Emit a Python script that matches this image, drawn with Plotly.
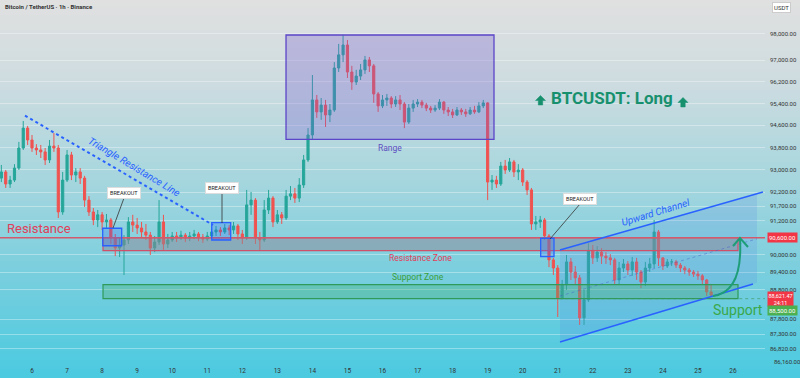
import numpy as np
import pandas as pd
import plotly.graph_objects as go

# ---------------- data (BTCUSDT, 3h candles) ----------------
start_time = "2026-01-05 03:00"
first_open = 92700
closes = [
    92920, 92490, 92630, 93060, 93780, 94500, 94070, 93780, 93710, 93640,
    93350, 93850, 93780, 91500, 92630, 93530, 92810, 92920, 92700, 91920,
    91500, 91220, 91400, 91150, 91220, 90590, 90240, 90345, 90520, 91150,
    91040, 90940, 90800, 90690, 90240, 90450, 91150, 90380, 90520, 90660,
    90590, 90690, 90590, 90660, 90730, 90620, 90550, 90660, 90800, 90870,
    90800, 90940, 90870, 91010, 90730, 90590, 91750, 91920, 90590, 90520,
    91570, 91990, 91150, 91400, 91290, 92060, 92140, 91990, 92455, 93350,
    94250, 95530, 95090, 95340, 94980, 95160, 96710, 97200, 97570, 96560,
    96190, 96410, 96640, 97010, 96790, 95750, 95310, 95530, 95600, 95380,
    95530, 95380, 94720, 95230, 95380, 95450, 95340, 95230, 95160, 95230,
    95450, 95160, 95090, 94980, 95160, 95090, 95020, 95160, 95090, 95310,
    95420, 92560, 92630, 92490, 93130, 92990, 93280, 92920, 92990, 92560,
    92280, 91080, 91150, 91220, 90660, 89830, 89550, 88520, 88970, 89760,
    89410, 89210, 87850, 88460, 90170, 89900, 90100, 89960, 89900, 89830,
    89140, 89550, 89690, 89480, 89760, 89410, 89070, 89550, 89690, 90800,
    89900, 89620, 89760, 89760, 89650, 89550, 89480, 89410, 89340, 89280,
    89140, 88730, 88621.47,
]
highs = [
    93170, 92990, 92780, 93200, 94000, 94760, 94580, 94250, 93920, 93890,
    93780, 94070, 94320, 93890, 92920, 93710, 93640, 93060, 93060, 92780,
    92060, 91640, 91570, 91500, 91430, 91290, 90730, 90590, 90690, 91320,
    91400, 91290, 91150, 91080, 90800, 90660, 91920, 91400, 90730, 90800,
    90800, 90840, 90760, 90800, 90870, 90800, 90730, 90800, 90940, 91010,
    90970, 91080, 91040, 91150, 91080, 90870, 92280, 92210, 91990, 90800,
    91920, 92280, 92060, 91570, 91500, 92280, 92420, 92350, 92700, 93530,
    94500, 96450, 95710, 95600, 95530, 95380, 96930, 97610, 97950, 97760,
    96790, 96640, 96860, 97160, 97120, 96860, 95820, 95710, 95750, 95670,
    95670, 95710, 95450, 95380, 95530, 95560, 95530, 95420, 95310, 95340,
    95560, 95490, 95270, 95200, 95270, 95230, 95200, 95270, 95310, 95450,
    95530, 95450, 92810, 92780, 93280, 93350, 93420, 93350, 93200, 93060,
    92630, 92350, 91360, 91360, 91290, 90730, 89900, 89650, 89140, 90000,
    89900, 89620, 89310, 88800, 90410, 90345, 90310, 90240, 90100, 90030,
    89900, 89760, 89860, 89790, 89930, 89900, 89480, 89760, 89900, 91220,
    90870, 89900, 89860, 89860, 89830, 89720, 89620, 89550, 89480, 89450,
    89340, 89170, 89000,
]
lows = [
    92560, 92350, 92350, 92560, 92990, 93710, 93890, 93640, 93530, 93420,
    93170, 93240, 93640, 91290, 91400, 92560, 92630, 92560, 92490, 91680,
    91360, 91040, 90970, 90870, 90940, 90380, 89960, 89930, 89310, 90380,
    90800, 90730, 90620, 90520, 90000, 90100, 90345, 90170, 90240, 90450,
    90450, 90520, 90450, 90480, 90550, 90480, 90420, 90480, 90590, 90660,
    90660, 90730, 90690, 90730, 90520, 90380, 90520, 91400, 90380, 90170,
    90450, 91430, 90970, 91080, 91080, 91220, 91920, 91820, 91850, 92350,
    93280, 94070, 94870, 94800, 94540, 94720, 95090, 96560, 96930, 96340,
    95900, 96080, 96265, 96490, 96560, 95420, 95090, 95230, 95310, 95230,
    95270, 95160, 94500, 94650, 95090, 95270, 95230, 95120, 95050, 95090,
    95160, 95020, 94940, 94870, 94940, 94980, 94910, 94980, 95020, 95050,
    95230, 91920, 92280, 92350, 92420, 92850, 92920, 92740, 92630, 92420,
    92100, 90870, 90870, 90940, 90520, 89580, 89310, 87880, 88480, 88800,
    89140, 89000, 87610, 87610, 88390, 89690, 89760, 89690, 89690, 89650,
    89000, 89000, 89410, 89310, 89280, 89140, 88860, 88930, 89410, 89550,
    89620, 89480, 89550, 89620, 89550, 89410, 89340, 89280, 89240, 89140,
    89000, 88590, 88560,
]
opens = [first_open] + closes[:-1]
times = pd.date_range(start_time, periods=len(closes), freq="3h")

# axis labels
day_ticks = pd.date_range("2026-01-06", "2026-01-26", freq="D")
day_labels = [str(d.day) for d in day_ticks]
price_ticks = [98000, 97000, 96200, 95400, 94600, 93800, 93000, 92200, 91700,
               91200, 90000, 89400, 88800, 87800, 87300, 86820]
price_labels = [f"{v:,.2f}" for v in price_ticks]

# levels / zones
resistance_top, resistance_bottom = 90600, 90150
support_top, support_bottom = 88980, 88500
last_price = 88621.47

# ---------------- layout helpers ----------------
W, H = 800, 378
ML, MR, MT, MB = 0, 35, 0, 23
PW, PH = W - ML - MR, H - MT - MB
def px(x): return x / PW
def py(y): return 1 - y / PH

fig = go.Figure()

fig.add_trace(go.Candlestick(
    x=times, open=opens, high=highs, low=lows, close=closes,
    increasing=dict(line=dict(color="#26a69a", width=1), fillcolor="#26a69a"),
    decreasing=dict(line=dict(color="#ef5350", width=1), fillcolor="#ef5350"),
    whiskerwidth=0, showlegend=False, hoverinfo="skip",
))

# channel fill
ch_x = ["2026-01-21 01:32", "2026-01-26 16:26", "2026-01-26 16:26", "2026-01-21 01:32"]
ch_y = [90170, 92146, 89043, 87038]
fig.add_trace(go.Scatter(x=ch_x, y=ch_y, fill="toself", mode="lines",
                         line=dict(width=0), fillcolor="rgba(90,140,230,0.20)",
                         showlegend=False, hoverinfo="skip"))

shapes = []
# background gradient
stops = [(0, (224, 224, 224)), (80, (206, 220, 224)), (180, (166, 214, 222)),
         (280, (118, 206, 222)), (378, (74, 202, 224))]
def grad(y):
    for (y0, c0), (y1, c1) in zip(stops[:-1], stops[1:]):
        if y0 <= y <= y1:
            t = (y - y0) / (y1 - y0)
            return "rgb(%d,%d,%d)" % tuple(round(a + (b - a) * t) for a, b in zip(c0, c1))
    return "rgb(%d,%d,%d)" % stops[-1][1]
for k in range(0, H, 3):
    shapes.append(dict(type="rect", xref="paper", yref="paper", layer="below",
                       x0=-0.01, x1=W / PW + 0.01, y0=py(k + 3.5), y1=py(k),
                       fillcolor=grad(k + 1.5), line=dict(width=0)))

# range box
shapes.append(dict(type="rect", xref="x", yref="y", x0="2026-01-13 05:56", x1="2026-01-19 04:21",
                   y0=94095, y1=97946, fillcolor="rgba(120,92,210,0.30)",
                   line=dict(color="#5b45c8", width=1.3)))
# resistance zone
shapes.append(dict(type="rect", xref="x", yref="y", x0="2026-01-08 00:37", x1="2026-01-26 03:26",
                   y0=resistance_bottom, y1=resistance_top, fillcolor="rgba(140,135,150,0.50)",
                   line=dict(color="#d0506a", width=1.2)))
# resistance line
shapes.append(dict(type="line", xref="paper", yref="y", x0=0, x1=1,
                   y0=resistance_top, y1=resistance_top, line=dict(color="#d25a6c", width=1.5)))
# support zone
shapes.append(dict(type="rect", xref="x", yref="y", x0="2026-01-08 00:37", x1="2026-01-26 03:26",
                   y0=support_bottom, y1=support_top, fillcolor="rgba(70,175,110,0.33)",
                   line=dict(color="#2f9a5a", width=1.2)))
shapes.append(dict(type="line", xref="x", yref="y", x0="2026-01-21 01:00", x1="2026-01-26 21:55",
                   y0=support_bottom, y1=support_bottom,
                   line=dict(color="rgba(60,150,90,0.6)", width=1, dash="dot")))
# breakout boxes
for x0, x1, y0, y1 in [("2026-01-08 00:25", "2026-01-08 13:25", 90320, 90930),
                       ("2026-01-11 03:03", "2026-01-11 16:03", 90520, 91124),
                       ("2026-01-20 12:19", "2026-01-20 21:26", 89940, 90580)]:
    shapes.append(dict(type="rect", xref="x", yref="y", x0=x0, x1=x1, y0=y0, y1=y1,
                       fillcolor="rgba(41,98,255,0.25)", line=dict(color="#2962ff", width=1.3)))
# triangle resistance line
shapes.append(dict(type="line", xref="x", yref="y", x0="2026-01-05 19:12", x1="2026-01-11 03:56",
                   y0=94953, y1=91043, line=dict(color="#2962ff", width=2, dash="dot")))
# upward channel
shapes.append(dict(type="line", xref="x", yref="y", x0="2026-01-21 01:32", x1="2026-01-26 20:33",
                   y0=90170, y1=92206, line=dict(color="#2962ff", width=1.5)))
shapes.append(dict(type="line", xref="x", yref="y", x0="2026-01-21 01:32", x1="2026-01-26 13:42",
                   y0=87038, y1=89001, line=dict(color="#2962ff", width=1.5)))
shapes.append(dict(type="line", xref="x", yref="y", x0="2026-01-21 01:32", x1="2026-01-26 16:26",
                   y0=88590, y1=90560, line=dict(color="rgba(70,90,200,0.45)", width=1, dash="dot")))
# leader lines
for (xa, ya), (xb, yb) in [((113, 228), (124, 198)), ((222, 194), (222, 223)), ((580, 204), (550, 239))]:
    shapes.append(dict(type="line", xref="paper", yref="paper", x0=px(xa), y0=py(ya),
                       x1=px(xb), y1=py(yb), line=dict(color="#333", width=0.8)))
# curved arrow
shapes.append(dict(type="path", xref="paper", yref="paper",
                   path=f"M {px(713)},{py(296)} Q {px(743)},{py(292)} {px(740)},{py(239)}",
                   line=dict(color="#1e9e78", width=2)))
shapes.append(dict(type="path", xref="paper", yref="paper",
                   path=f"M {px(733)},{py(246)} L {px(740)},{py(238)} L {px(748)},{py(247)}",
                   line=dict(color="#1e9e78", width=2)))
# filled up-arrows beside the "BTCUSDT: Long" title
def up_arrow(cx, top):
    pts = [(cx - 5, top + 5), (cx, top), (cx + 5, top + 5), (cx + 2.2, top + 5),
           (cx + 2.2, top + 9.5), (cx - 2.2, top + 9.5), (cx - 2.2, top + 5)]
    p = "M " + " L ".join(f"{px(a)},{py(b)}" for a, b in pts) + " Z"
    return dict(type="path", xref="paper", yref="paper", path=p,
                fillcolor="#17906e", line=dict(color="#17906e", width=0.5))
shapes.append(up_arrow(540.5, 95.5))
shapes.append(up_arrow(683, 97.5))

font_main = "Roboto, Liberation Sans, sans-serif"
ann = []
def text(x, y, s, size, color, **kw):
    d = dict(x=px(x), y=py(y), xref="paper", yref="paper", text=s, showarrow=False,
             xanchor="center", yanchor="middle",
             font=dict(size=size, color=color, family=kw.pop("family", font_main),
                       style=kw.pop("style", "normal"), weight=kw.pop("weight", "normal")))
    d.update(kw)
    ann.append(d)

text(3, 7, "Bitcoin / TetherUS · 1h · Binance", 6, "#333", xanchor="left", weight="bold")
text(781, 7.5, "USDT", 6, "#333", bgcolor="white", bordercolor="#ccc", borderpad=1)
text(5, 228, "Resistance", 13, "#e0405a", xanchor="left")
text(420, 258, "Resistance Zone", 8.5, "#e0405a")
text(418, 277, "Support Zone", 8.5, "#3a9e3a")
text(738, 310, "Support", 14, "#3aa84a")
text(390, 148, "Range", 8.5, "#5e4fc0")
text(612, 98, "BTCUSDT: Long", 17, "#17906e", weight="bold")
text(134, 166, "Triangle Resistance Line", 10, "#2962ff", textangle=31, style="italic")
text(655, 212, "Upward Channel", 10, "#2962ff", textangle=-17, style="italic")
for (x, y) in [(124, 193), (222, 188), (580, 199)]:
    text(x, y, "BREAKOUT", 5.5, "#222", bgcolor="white", bordercolor="#ddd", borderpad=2)
# price badges
text(767, 237.7, "90,600.00", 6, "white", xanchor="left", bgcolor="#f23645", borderpad=1)
text(767, 298.5, "88,621.47<br>24:11", 5.5, "white", xanchor="left", bgcolor="#f23645", borderpad=0.5)
text(767, 310, "88,500.00", 6, "white", xanchor="left", bgcolor="#4caf50", borderpad=1)
text(772, 361, "86,160.00", 6, "#333", xanchor="left")

fig.update_layout(
    width=W, height=H, margin=dict(l=ML, r=MR, t=MT, b=MB, autoexpand=False),
    paper_bgcolor="rgb(74,202,224)", plot_bgcolor="rgba(0,0,0,0)",
    shapes=shapes, annotations=ann, showlegend=False,
    xaxis=dict(range=["2026-01-05 02:05", "2026-01-26 21:55"], rangeslider=dict(visible=False),
               tickvals=day_ticks, ticktext=day_labels, showgrid=False, zeroline=False,
               tickfont=dict(size=6.5, color="#333", family=font_main),
               ticks="outside", ticklen=9, tickcolor="rgba(0,0,0,0)", showline=False),
    yaxis=dict(type="log", side="right", range=[np.log10(86603), np.log10(99273)],
               tickvals=price_ticks, ticktext=price_labels,
               tickfont=dict(size=6, color="#333", family=font_main), ticks="",
               showgrid=True, gridcolor="rgba(255,255,255,0.35)", gridwidth=1,
               zeroline=False, showline=False, ticklabelstandoff=4),
)

fig.write_html("out.html", config={"displayModeBar": False},
               post_script="document.body.style.margin='0';")
